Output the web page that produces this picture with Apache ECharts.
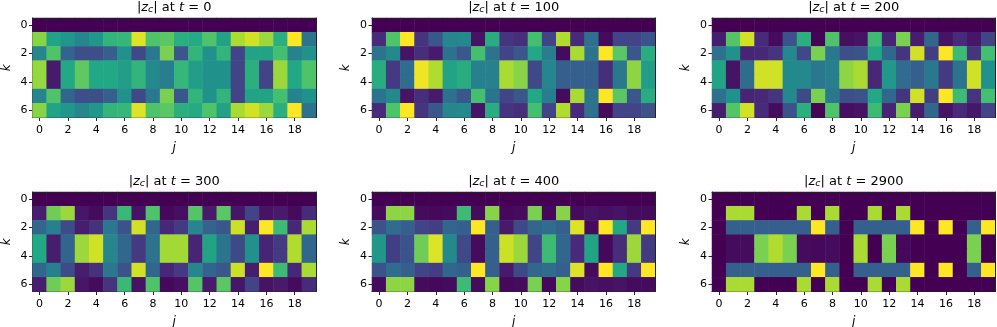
<!DOCTYPE html>
<html>
<head>
<meta charset="utf-8">
<style>
  html, body { margin: 0; padding: 0; background: #fff; }
  #chart { width: 997px; height: 327px; }
</style>
<script src="https://cdn.jsdelivr.net/npm/echarts@6/dist/echarts.min.js"></script>
</head>
<body>
<div id="chart"></div>
<script>
const jLabels = ["0","1","2","3","4","5","6","7","8","9","10","11","12","13","14","15","16","17","18","19"]
const kLabels = ["0","1","2","3","4","5","6"]
const times = ["0", "100", "200", "300", "400", "2900"]

// rows k=1,2,3 of each panel, rows 4,5,6 mirror them and row 0 is empty
const emptyRow = [0,0,0,0,0,0,0,0,0,0,0,0,0,0,0,0,0,0,0,0]

const t0Row1 = [.82,.58,.52,.45,.52,.65,.66,.95,.72,.74,.63,.61,.72,.57,.87,.93,.85,.63,1,.38]
const t0Row2 = [.45,.72,.32,.24,.24,.3,.5,.22,.4,.8,.27,.65,.5,.65,.2,.58,.58,.7,.44,.5]
const t0Row3 = [.84,.07,.6,.75,.6,.6,.55,.65,.47,.42,.66,.55,.5,.5,.2,.63,.2,.85,.6,.72]

const t100Row1 = [.12,.72,1,.15,.27,.45,.47,.05,.62,.15,.13,.7,.2,.88,.12,.37,.03,.2,.2,.25]
const t100Row2 = [.38,.47,.05,.13,.07,.37,.27,.7,.38,.2,.27,.6,.42,.03,.87,.38,1,.74,.27,.62]
const t100Row3 = [.62,.17,.35,.98,.88,.58,.62,.43,.43,.87,.82,.22,.45,.3,.3,.3,.13,.4,.83,.55]

const t200Row1 = [.08,.73,.93,.12,.03,.25,.63,.01,.72,.04,.05,.68,.1,.8,.08,.33,.05,.12,.06,.2]
const t200Row2 = [.37,.5,.1,.11,.15,.47,.22,.8,.4,.24,.25,.6,.33,.15,.93,.18,1,.68,.15,.7]
const t200Row3 = [.58,.05,.35,.93,.93,.47,.47,.4,.42,.83,.87,.11,.53,.35,.3,.4,.17,.38,.93,.5]

const t300Row1 = [.08,.78,.85,.06,.03,.15,.67,.05,.72,.02,.04,.73,.07,.74,.06,.2,.05,.07,.03,.12]
const t300Row2 = [.33,.43,.23,.08,.14,.4,.25,.93,.33,.11,.17,.45,.32,.27,.92,.08,1,.68,.11,.87]
const t300Row3 = [.6,.08,.32,.85,.93,.45,.33,.17,.38,.86,.86,.1,.58,.38,.22,.5,.1,.17,.88,.33]

const t400Row1 = [.03,.83,.83,.03,.02,.03,.68,.03,.82,.02,.03,.8,.02,.82,.03,.05,.04,.05,.03,.03]
const t400Row2 = [.25,.35,.3,.2,.18,.33,.3,1,.3,.07,.22,.33,.35,.3,.95,.03,1,.6,.17,1]
const t400Row3 = [.52,.18,.25,.78,.95,.47,.22,.03,.3,.92,.85,.2,.68,.33,.12,.58,.02,.13,.85,.17]

const t2900Row1 = [0,.87,.87,0,0,0,.87,0,.87,0,0,.87,0,.87,0,0,0,0,0,0]
const t2900Row2 = [0,.3,.3,.3,.3,.3,.3,1,.3,0,.3,.3,.3,.3,1,0,1,0,.3,1]
const t2900Row3 = [0,.03,.03,.8,.88,.8,.03,.02,.03,0,.87,0,.8,.02,0,0,0,0,.8,0]

const panelRows = [
  [t0Row1, t0Row2, t0Row3],
  [t100Row1, t100Row2, t100Row3],
  [t200Row1, t200Row2, t200Row3],
  [t300Row1, t300Row2, t300Row3],
  [t400Row1, t400Row2, t400Row3],
  [t2900Row1, t2900Row2, t2900Row3]
]

const viridis = ["#440154","#482475","#414487","#355f8d","#2a788e","#21918c","#22a884","#44bf70","#7ad151","#bddf26","#fde725"]
const font = "DejaVu Sans"
const lefts = [32.5, 372, 712]
const tops = [18, 192]
const plotW = 283.5
const plotH = 99.5

function cells(rows) {
  const [r1, r2, r3] = rows
  const matrix = [emptyRow, r1, r2, r3, r3, r2, r1]
  const out = []
  matrix.forEach((row, k) => row.forEach((v, j) => out.push([j, k, v])))
  return out
}

const grid = [], xAxis = [], yAxis = [], series = [], title = []

panelRows.forEach((rows, i) => {
  const left = lefts[i % 3]
  const top = tops[Math.floor(i / 3)]
  // v6 shrinks grids to keep labels inside the canvas unless told not to
  grid.push({ left, top, width: plotW, height: plotH, outerBoundsMode: "none" })

  title.push({
    text: "{a||}{i|z}{s|c}{a|| at }{i|t}{a| = " + times[i] + "}",
    left: left + plotW / 2,
    top: top - 18,
    textAlign: "center",
    padding: 0,
    textStyle: {
      fontFamily: font,
      fontWeight: "normal",
      rich: {
        a: { fontFamily: font, fontWeight: "normal", fontSize: 13, color: "#000" },
        i: { fontFamily: font, fontWeight: "normal", fontSize: 13, fontStyle: "italic", color: "#000" },
        s: { fontFamily: font, fontWeight: "normal", fontSize: 9.5, fontStyle: "italic", color: "#000", padding: [5, 0, 0, 0] }
      }
    }
  })

  const line = { show: true, lineStyle: { color: "#222", width: 1 } }
  const tick = { show: true, alignWithLabel: true, interval: 1, length: 3.5, lineStyle: { color: "#222", width: 1 } }
  const label = { show: true, interval: 1, margin: 5, color: "#000", fontFamily: font, fontSize: 11 }

  xAxis.push({
    type: "category", gridIndex: i, data: jLabels, position: "bottom",
    axisLine: { ...line, onZero: false }, axisTick: tick, axisLabel: { ...label, margin: 7 }, splitLine: { show: false }, splitArea: { show: false },
    name: "j", nameLocation: "middle", nameGap: 24,
    nameTextStyle: { fontFamily: font, fontSize: 12, fontStyle: "italic", color: "#000" }
  })
  yAxis.push({
    type: "category", gridIndex: i, data: kLabels, inverse: true, position: "left",
    axisLine: { ...line, onZero: false }, axisTick: tick, axisLabel: label, splitLine: { show: false }, splitArea: { show: false },
    name: "k", nameLocation: "middle", nameGap: 20,
    nameTextStyle: { fontFamily: font, fontSize: 12, fontStyle: "italic", color: "#000" }
  })

  series.push({
    type: "heatmap", xAxisIndex: i, yAxisIndex: i, data: cells(rows),
    progressive: 0, animation: false, silent: true,
    itemStyle: { borderWidth: 0 }, emphasis: { disabled: true }
  })
})

// top and right spines of each panel
panelRows.forEach((rows, i) => {
  const spine = { show: true, onZero: false, lineStyle: { color: "#222", width: 1 } }
  xAxis.push({
    type: "category", gridIndex: i, data: jLabels, position: "top", z: 5,
    axisLine: spine, axisTick: { show: false }, axisLabel: { show: false }, splitLine: { show: false }
  })
  yAxis.push({
    type: "category", gridIndex: i, data: kLabels, inverse: true, position: "right", z: 5,
    axisLine: spine, axisTick: { show: false }, axisLabel: { show: false }, splitLine: { show: false }
  })
})

const chart = echarts.init(document.getElementById("chart"), null, { renderer: "canvas" })
chart.setOption({
  animation: false,
  backgroundColor: "#fff",
  tooltip: { show: false },
  visualMap: { show: false, type: "continuous", min: 0, max: 1, seriesIndex: series.map((s, i) => i), inRange: { color: viridis } },
  title, grid, xAxis, yAxis, series
})
</script>
</body>
</html>
